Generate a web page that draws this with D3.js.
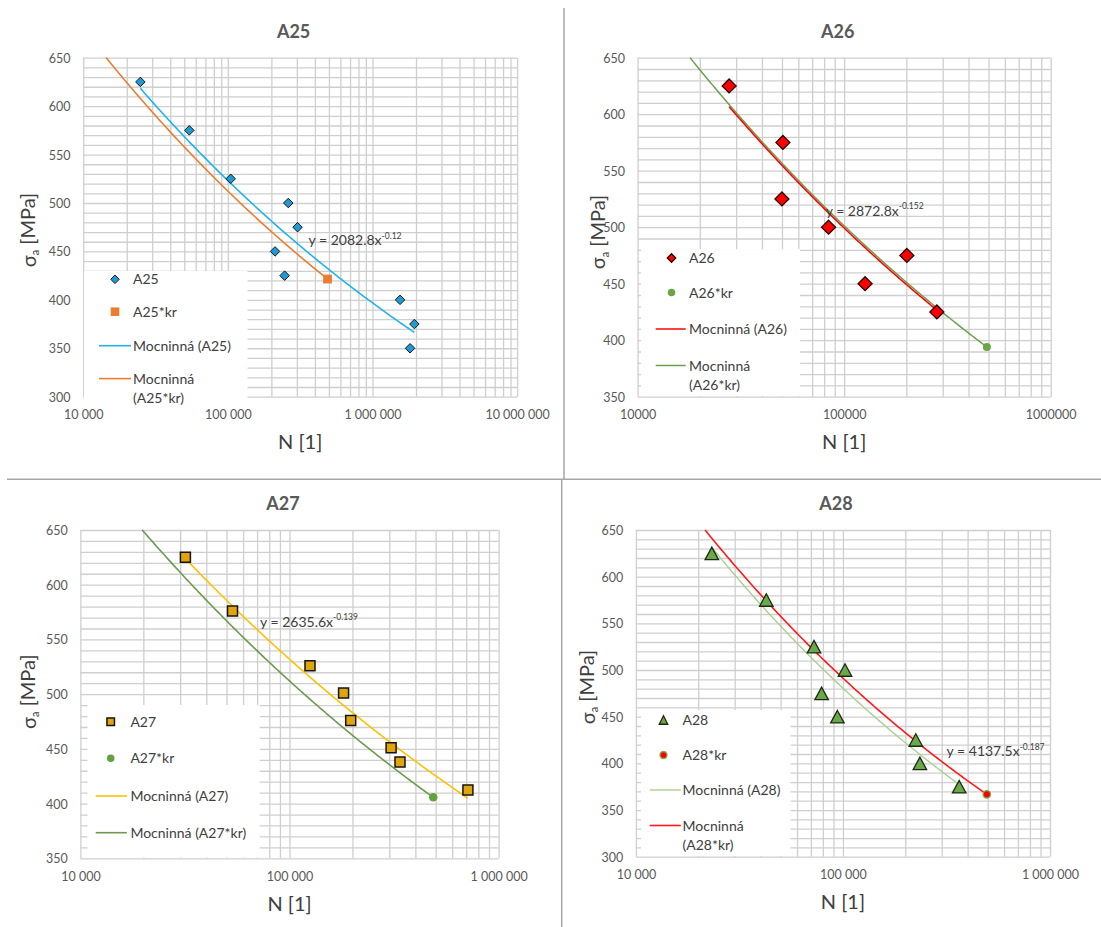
<!DOCTYPE html>
<html>
<head>
<meta charset="utf-8">
<script src="https://cdn.jsdelivr.net/npm/d3@7"></script>
<style>
  html, body { margin: 0; padding: 0; background: #ffffff; }
  svg { display: block; font-family: Lato, "Open Sans", "DejaVu Sans", sans-serif; }
</style>
</head>
<body>
<svg id="chart" width="1101" height="927"></svg>
<script>
// ---------- data ----------
const titles = ["A25", "A26", "A27", "A28"];

// A25: number of cycles N and stress amplitude σa [MPa]
const a25N = [24850, 54150, 104700, 261700, 303400, 212100, 247100, 1552000, 1949000, 1820000];
const a25S = [625, 575, 525, 500, 475, 450, 425, 400, 375, 350];
const a25krN = [489000];
const a25krS = [421.5];
const a25Fit = [2082.8, -0.12];          // power trend y = a·x^b
const a25krFit = [2108.8, -0.1229];
const a25krSpan = [14400, 489000];

// A26
const a26N = [27740, 50530, 49970, 84040, 201200, 126300, 281100];
const a26S = [625, 575, 525, 500, 475, 450, 425];
const a26krN = [491000];
const a26krS = [394];
const a26Fit = [2872.8, -0.152];
const a26krFit = [2861, -0.1513];
const a26krSpan = [17960, 491000];

// A27
const a27N = [31780, 53390, 125300, 181400, 196200, 306100, 337600, 713300];
const a27S = [625, 576, 526, 501, 476, 451, 438, 412.5];
const a27krN = [486800];
const a27krS = [405.7];
const a27Fit = [2635.6, -0.139];
const a27krFit = [2785, -0.1471];
const a27krSpan = [19730, 486800];

// A28
const a28N = [23260, 42640, 72480, 102300, 78870, 94010, 224800, 235300, 364300];
const a28S = [625, 575, 525, 500, 475, 450, 425, 400, 375];
const a28krN = [495200];
const a28krS = [366.8];
const a28Fit = [4137.5, -0.187];
const a28krFit = [4021, -0.1826];
const a28krSpan = [21570, 495200];

// axis ranges and tick labels
const xDomainA25 = [1e4, 1e7];
const xDomainA26 = [1e4, 1e6];
const xDomainA27 = [1e4, 1e6];
const xDomainA28 = [1e4, 1e6];
const yDomainA25 = [300, 650];
const yDomainA26 = [350, 650];
const yDomainA27 = [350, 650];
const yDomainA28 = [300, 650];
const xLabelsA25 = ["10 000", "100 000", "1 000 000", "10 000 000"];
const xLabelsA26 = ["10000", "100000", "1000000"];
const xLabelsA27 = ["10 000", "100 000", "1 000 000"];
const xLabelsA28 = ["10 000", "100 000", "1 000 000"];

// legend entries (each entry may wrap onto several lines)
const legendA25 = [["A25"], ["A25*kr"], ["Mocninná (A25)"], ["Mocninná", "(A25*kr)"]];
const legendA26 = [["A26"], ["A26*kr"], ["Mocninná (A26)"], ["Mocninná", "(A26*kr)"]];
const legendA27 = [["A27"], ["A27*kr"], ["Mocninná (A27)"], ["Mocninná (A27*kr)"]];
const legendA28 = [["A28"], ["A28*kr"], ["Mocninná (A28)"], ["Mocninná", "(A28*kr)"]];

const xTitle = "N [1]";

// ---------- panels: data references ----------
const panels = [
  { title: titles[0], N: a25N, S: a25S, krN: a25krN, krS: a25krS, fit: a25Fit, krFit: a25krFit, krSpan: a25krSpan,
    xDomain: xDomainA25, yDomain: yDomainA25, xLabels: xLabelsA25, legend: legendA25 },
  { title: titles[1], N: a26N, S: a26S, krN: a26krN, krS: a26krS, fit: a26Fit, krFit: a26krFit, krSpan: a26krSpan,
    xDomain: xDomainA26, yDomain: yDomainA26, xLabels: xLabelsA26, legend: legendA26 },
  { title: titles[2], N: a27N, S: a27S, krN: a27krN, krS: a27krS, fit: a27Fit, krFit: a27krFit, krSpan: a27krSpan,
    xDomain: xDomainA27, yDomain: yDomainA27, xLabels: xLabelsA27, legend: legendA27 },
  { title: titles[3], N: a28N, S: a28S, krN: a28krN, krS: a28krS, fit: a28Fit, krFit: a28krFit, krSpan: a28krSpan,
    xDomain: xDomainA28, yDomain: yDomainA28, xLabels: xLabelsA28, legend: legendA28 }
];

// ---------- layout & styling ----------
const layout = [
  { x0: 83.2, x1: 517.1, y0: 57.7, y1: 396.7, titleX: 293.6, yTitleX: 28.6, yTitleY: 230, eq: [308.5, 240],
    leg: { box: [84, 271, 247.5, 406], mx: 115, tx: 133, lx: [99, 131], rows: [279.3, 311.7, 345.7, 378.6, 397.6] } },
  { x0: 637.6, x1: 1050.7, y0: 57.7, y1: 396.7, titleX: 837.8, yTitleX: 598, yTitleY: 232, eq: [825.7, 210.7],
    leg: { box: [641, 249.3, 800, 396], mx: 671.5, tx: 689, lx: [655.7, 685.7], rows: [258, 292.5, 329, 365.5, 384.5] } },
  { x0: 80.4, x1: 498.6, y0: 530, y1: 858.3, titleX: 282.9, yTitleX: 28.6, yTitleY: 691.7, eq: [260, 621.7],
    leg: { box: [87.5, 705, 259.6, 857.5], mx: 110.7, tx: 130.4, lx: [95.7, 126.8], rows: [721.7, 758.3, 796, 832.7] } },
  { x0: 635.9, x1: 1050, y0: 530, y1: 856.7, titleX: 836, yTitleX: 587.6, yTitleY: 687, eq: [946.6, 751],
    leg: { box: [641, 710, 790.5, 856], mx: 663.5, tx: 682.5, lx: [649.7, 680.8], rows: [720, 755, 790, 825.5, 845] } }
];

const looks = [
  { main: { shape: "diamond", w: 9.5, h: 9.5, fill: "#1e9bd7", stroke: "#151515", sw: 1 },
    kr: { shape: "square", w: 8.8, h: 8.8, fill: "#ed7d31", stroke: "none", sw: 0 },
    legMain: 8.5, legKr: 8.6, fitColor: "#1fb3ee", krColor: "#ed7d31", fitW: 1.6, krW: 1.6 },
  { main: { shape: "diamond", w: 14, h: 14, fill: "#ff0000", stroke: "#2a0000", sw: 1.3 },
    kr: { shape: "circle", w: 8, h: 8, fill: "#6aa544", stroke: "none", sw: 0 },
    legMain: 8.5, legKr: 7.5, fitColor: "#ff0000", krColor: "#6e9f4c", fitW: 1.5, krW: 1.5 },
  { main: { shape: "square", w: 10, h: 10, fill: "#e0a40c", stroke: "#141414", sw: 1.5 },
    kr: { shape: "circle", w: 8.5, h: 8.5, fill: "#63a13f", stroke: "none", sw: 0 },
    legMain: 7.5, legKr: 7.5, fitColor: "#ffc000", krColor: "#6d9a4e", fitW: 1.6, krW: 1.6 },
  { main: { shape: "triangle", w: 13.5, h: 12.5, fill: "#6aa84a", stroke: "#1c2a12", sw: 1.3 },
    kr: { shape: "circle", w: 7.5, h: 7.5, fill: "#ff0000", stroke: "#78b052", sw: 1.3 },
    legMain: 8.5, legKr: 7, fitColor: "#a9d08e", krColor: "#ff1a1a", fitW: 1.4, krW: 1.6 }
];

const GRID = "#cfcfcf";
const TICK_TEXT = "#595959";
const DARK_TEXT = "#404040";

// marker outline centred on (0,0)
function markerPath(shape, w, h) {
  const rx = w / 2, ry = h / 2;
  if (shape === "diamond") return `M0,${-ry}L${rx},0L0,${ry}L${-rx},0Z`;
  if (shape === "square") return `M${-rx},${-ry}H${rx}V${ry}H${-rx}Z`;
  if (shape === "triangle") return `M0,${-ry}L${rx},${ry}L${-rx},${ry}Z`;
  const p = d3.path();
  p.arc(0, 0, rx, 0, 2 * Math.PI);
  p.closePath();
  return p.toString();
}

// points along a power trend y = a·x^b between two N values
function trendPoints(fit, lo, hi) {
  const [a, b] = fit;
  const n = 160;
  return d3.range(n + 1).map(i => {
    const N = lo * Math.pow(hi / lo, i / n);
    return [N, a * Math.pow(N, b)];
  });
}

const svg = d3.select("#chart");
const defs = svg.append("defs");

// frame lines between the four charts
const sep = svg.append("g").attr("stroke", "#a6a6a6").attr("stroke-width", 1.5);
sep.append("line").attr("x1", 564).attr("y1", 8).attr("x2", 564).attr("y2", 479.3);
sep.append("line").attr("x1", 7).attr("y1", 479.3).attr("x2", 1101).attr("y2", 479.3);
sep.append("line").attr("x1", 561.7).attr("y1", 479.3).attr("x2", 561.7).attr("y2", 927);

panels.forEach((p, i) => {
  const L = layout[i];
  const st = looks[i];
  const g = svg.append("g");

  const x = d3.scaleLog().domain(p.xDomain).range([L.x0, L.x1]);
  const y = d3.scaleLinear().domain(p.yDomain).range([L.y1, L.y0]);
  const W = L.x1 - L.x0, H = L.y1 - L.y0;

  defs.append("clipPath").attr("id", "plot" + i)
    .append("rect").attr("x", L.x0).attr("y", L.y0 - 1).attr("width", W).attr("height", H + 2);

  // vertical (log) grid
  g.append("g")
    .attr("transform", `translate(0,${L.y1})`)
    .call(d3.axisBottom(x).tickValues(x.ticks()).tickSize(-H).tickFormat(""))
    .call(s => s.select(".domain").remove())
    .selectAll("line").attr("stroke", GRID).attr("stroke-width", 1.3);

  // horizontal grid every 10 MPa
  const yMinor = d3.range(p.yDomain[0], p.yDomain[1] + 0.5, 10);
  g.append("g")
    .attr("transform", `translate(${L.x0},0)`)
    .call(d3.axisLeft(y).tickValues(yMinor).tickSize(-W).tickFormat(""))
    .call(s => s.select(".domain").remove())
    .selectAll("line").attr("stroke", GRID).attr("stroke-width", 1.3);

  // y tick labels
  const yMajor = d3.range(p.yDomain[0], p.yDomain[1] + 0.5, 50);
  g.append("g")
    .attr("transform", `translate(${L.x0},0)`)
    .call(d3.axisLeft(y).tickValues(yMajor).tickSize(0).tickPadding(12.7))
    .call(s => s.select(".domain").remove())
    .selectAll("text")
    .attr("fill", TICK_TEXT).attr("font-size", 12.5).attr("font-family", "Lato, sans-serif")
    .attr("dy", "0.36em");

  // x tick labels (decades)
  const decades = [];
  for (let v = p.xDomain[0]; v <= p.xDomain[1] * 1.0001; v *= 10) decades.push(v);
  g.append("g")
    .attr("transform", `translate(0,${L.y1})`)
    .call(d3.axisBottom(x).tickValues(decades).tickSize(0).tickFormat((d, k) => p.xLabels[k]))
    .call(s => s.select(".domain").remove())
    .selectAll("text")
    .attr("fill", TICK_TEXT).attr("font-size", 12.5).attr("font-family", "Lato, sans-serif")
    .attr("y", 18).attr("dy", "0.36em");

  // trend lines
  const line = d3.line().x(d => x(d[0])).y(d => y(d[1]));
  const lines = g.append("g").attr("clip-path", `url(#plot${i})`).attr("fill", "none");
  const [nLo, nHi] = d3.extent(p.N);
  lines.append("path")
    .attr("d", line(trendPoints(p.krFit, p.krSpan[0], p.krSpan[1])))
    .attr("stroke", st.krColor).attr("stroke-width", st.krW);
  lines.append("path")
    .attr("d", line(trendPoints(p.fit, nLo, nHi)))
    .attr("stroke", st.fitColor).attr("stroke-width", st.fitW);

  // measured points
  const mainPath = markerPath(st.main.shape, st.main.w, st.main.h);
  g.append("g").selectAll("path")
    .data(p.N.map((n, k) => [n, p.S[k]]))
    .join("path")
    .attr("d", mainPath)
    .attr("transform", d => `translate(${x(d[0])},${y(d[1])})`)
    .attr("fill", st.main.fill).attr("stroke", st.main.stroke).attr("stroke-width", st.main.sw);

  const krPath = markerPath(st.kr.shape, st.kr.w, st.kr.h);
  g.append("g").selectAll("path")
    .data(p.krN.map((n, k) => [n, p.krS[k]]))
    .join("path")
    .attr("d", krPath)
    .attr("transform", d => `translate(${x(d[0])},${y(d[1])})`)
    .attr("fill", st.kr.fill).attr("stroke", st.kr.stroke).attr("stroke-width", st.kr.sw);

  // trend equation
  const eq = g.append("text")
    .attr("x", L.eq[0]).attr("y", L.eq[1]).attr("dy", "0.36em")
    .attr("font-size", 14).attr("fill", DARK_TEXT).attr("font-family", "Lato, sans-serif");
  eq.append("tspan").text(`y = ${p.fit[0]}x`);
  eq.append("tspan").attr("font-size", 8.5).attr("dy", "-0.75em").text(`${p.fit[1]}`);

  // legend
  const lg = g.append("g");
  const b = L.leg.box;
  lg.append("rect").attr("x", b[0]).attr("y", b[1]).attr("width", b[2] - b[0]).attr("height", b[3] - b[1])
    .attr("fill", "#ffffff");
  const rows = L.leg.rows;
  lg.append("path")
    .attr("d", markerPath(st.main.shape, st.legMain, st.legMain))
    .attr("transform", `translate(${L.leg.mx},${rows[0]})`)
    .attr("fill", st.main.fill).attr("stroke", st.main.stroke).attr("stroke-width", st.main.sw);
  lg.append("path")
    .attr("d", markerPath(st.kr.shape, st.legKr, st.legKr))
    .attr("transform", `translate(${L.leg.mx},${rows[1]})`)
    .attr("fill", st.kr.fill).attr("stroke", st.kr.stroke).attr("stroke-width", st.kr.sw);
  lg.append("line").attr("x1", L.leg.lx[0]).attr("x2", L.leg.lx[1]).attr("y1", rows[2]).attr("y2", rows[2])
    .attr("stroke", st.fitColor).attr("stroke-width", st.fitW);
  lg.append("line").attr("x1", L.leg.lx[0]).attr("x2", L.leg.lx[1]).attr("y1", rows[3]).attr("y2", rows[3])
    .attr("stroke", st.krColor).attr("stroke-width", st.krW);

  let r = 0;
  p.legend.forEach(entry => {
    entry.forEach(txt => {
      lg.append("text")
        .attr("x", L.leg.tx).attr("y", rows[r]).attr("dy", "0.36em")
        .attr("font-size", 14).attr("fill", DARK_TEXT).attr("font-family", "Lato, sans-serif")
        .text(txt);
      r++;
    });
  });

  // chart title
  g.append("text")
    .attr("x", L.titleX).attr("y", L.y0 - 26).attr("dy", "0.36em")
    .attr("text-anchor", "middle").attr("font-size", 18).attr("font-weight", "bold")
    .attr("fill", TICK_TEXT).attr("font-family", "Lato, sans-serif")
    .text(p.title);

  // axis titles
  g.append("text")
    .attr("x", (L.x0 + L.x1) / 2).attr("y", L.y1 + 45).attr("dy", "0.36em")
    .attr("text-anchor", "middle").attr("font-size", 20).attr("fill", DARK_TEXT)
    .attr("font-family", "Lato, sans-serif")
    .text(xTitle);

  const yt = g.append("text")
    .attr("transform", `translate(${L.yTitleX},${L.yTitleY}) rotate(-90)`)
    .attr("dy", "0.36em")
    .attr("text-anchor", "middle").attr("font-size", 20).attr("fill", DARK_TEXT)
    .attr("font-family", "Lato, 'DejaVu Sans', sans-serif");
  yt.append("tspan").text("σ");
  yt.append("tspan").attr("font-size", 11).attr("dy", "0.3em").text("a");
  yt.append("tspan").attr("dy", "-0.2em").text(" [MPa]");
});
</script>
</body>
</html>
